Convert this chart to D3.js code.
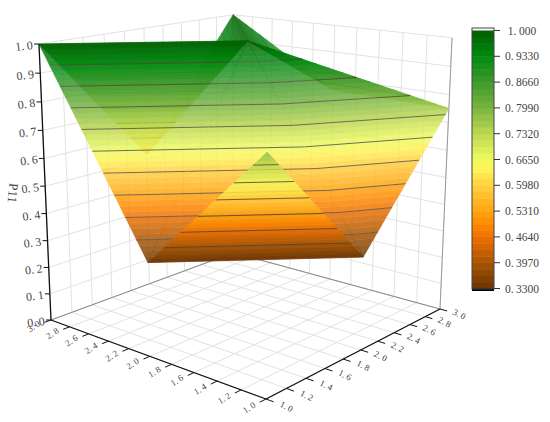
<!DOCTYPE html>
<html>
<head>
<meta charset="utf-8">
<script src="https://cdnjs.cloudflare.com/ajax/libs/d3/7.8.5/d3.min.js"></script>
<style>
html, body { margin: 0; padding: 0; background: #fff; }
svg { display: block; }
text { font-family: "Liberation Serif", serif; fill: #444; }
</style>
</head>
<body>
<div id="container"></div>
<script>
// surface samples
const xValues = [1, 2, 3];
const yValues = [1, 2, 3];
// p11[i][j] is the value at xValues[i], yValues[j]
const p11 = [
    [0.78, 0.33, 0.75],
    [0.33, 1.00, 0.755],
    [1.00, 0.52, 1.00]
];

const xTicks = [1.0, 1.2, 1.4, 1.6, 1.8, 2.0, 2.2, 2.4, 2.6, 2.8, 3.0];
const yTicks = [1.0, 1.2, 1.4, 1.6, 1.8, 2.0, 2.2, 2.4, 2.6, 2.8, 3.0];
const zTicks = [0.0, 0.1, 0.2, 0.3, 0.4, 0.5, 0.6, 0.7, 0.8, 0.9, 1.0];
const barTicks = [0.33, 0.397, 0.464, 0.531, 0.598, 0.665, 0.732, 0.799, 0.866, 0.933, 1.0];

const colorStops = [0.33, 0.397, 0.464, 0.50, 0.531, 0.598, 0.635, 0.665, 0.732, 0.799, 0.866, 0.933, 1.0];
const colorValues = ['#6a3404', '#a85400', '#f07000', '#ff8c00', '#ffa510', '#ffd040', '#fff055', '#f0fb60', '#bcd850', '#78b440', '#3f9a2c', '#008a10', '#006000'];

const bandCount = 40;

const width = 550, height = 422;

const uScale = d3.scaleLinear().domain([1, 3]).range([0, 1]);
const vScale = d3.scaleLinear().domain([1, 3]).range([0, 1]);
const wScale = d3.scaleLinear().domain([0, 1]).range([0, 1]);
const color = d3.scaleLinear().domain(colorStops).range(colorValues);
const barY = d3.scaleLinear().domain([0.33, 1]).range([288.5, 30.5]);

// camera: images of the box corners plus a foreshortening weight per axis
const O = [266, 399], A = [51, 320], B = [440, 309], D = [249.2, 71.94];
const wa = 1.174, wb = 1.196, wc = 0.931;

const project = (x, y, z) => {
    const u = uScale(x), v = vScale(y), w = wScale(z);
    const den = 1 + u * (wa - 1) + v * (wb - 1) + w * (wc - 1);
    return [0, 1].map(k => (O[k] + u * (wa * A[k] - O[k]) + v * (wb * B[k] - O[k]) + w * (D[k] - O[k])) / den);
};

const svg = d3.select('#container').append('svg')
    .attr('width', width).attr('height', height);

const line3 = (parent, a, b, stroke, sw) => {
    const p = project(...a), q = project(...b);
    return parent.append('line')
        .attr('x1', p[0]).attr('y1', p[1]).attr('x2', q[0]).attr('y2', q[1])
        .attr('stroke', stroke).attr('stroke-width', sw);
};

// walls and floor
const grid = svg.append('g');
const gridColor = '#e2e2e2';
xTicks.forEach(t => {
    line3(grid, [t, 1, 0], [t, 3, 0], gridColor, 1);
    line3(grid, [t, 3, 0], [t, 3, 1], gridColor, 1);
});
yTicks.forEach(t => {
    line3(grid, [1, t, 0], [3, t, 0], gridColor, 1);
    line3(grid, [3, t, 0], [3, t, 1], gridColor, 1);
});
zTicks.forEach(t => {
    line3(grid, [3, 1, t], [3, 3, t], gridColor, 1);
    line3(grid, [3, 3, t], [1, 3, t], gridColor, 1);
});
line3(grid, [3, 1, 0], [3, 3, 0], '#888', 1);
line3(grid, [1, 3, 0], [3, 3, 0], '#888', 1);
line3(grid, [1, 3, 0], [1, 3, 1], '#999', 1);

// surface
const vertex = (i, j) => [xValues[i], yValues[j], p11[i][j]];
const triangles = [
    [[2, 2], [1, 1], [1, 2]],
    [[1, 1], [0, 2], [1, 2]],
    [[2, 2], [1, 1], [2, 1]],
    [[2, 0], [2, 1], [1, 1]],
    [[1, 1], [0, 2], [0, 1]],
    [[2, 0], [1, 0], [1, 1]],
    [[1, 0], [0, 1], [1, 1]],
    [[1, 0], [0, 0], [0, 1]]
];

const clipZ = (poly, level, keepAbove) => {
    const out = [];
    const inside = p => keepAbove ? p[2] >= level : p[2] <= level;
    poly.forEach((p, i) => {
        const q = poly[(i + 1) % poly.length];
        if (inside(p)) out.push(p);
        if (inside(p) !== inside(q)) {
            const t = (level - p[2]) / (q[2] - p[2]);
            out.push([p[0] + t * (q[0] - p[0]), p[1] + t * (q[1] - p[1]), level]);
        }
    });
    return out;
};

const contourSegment = (tri, level) => {
    const pts = [];
    tri.forEach((p, i) => {
        const q = tri[(i + 1) % 3];
        if ((p[2] - level) * (q[2] - level) < 0) {
            const t = (level - p[2]) / (q[2] - p[2]);
            pts.push([p[0] + t * (q[0] - p[0]), p[1] + t * (q[1] - p[1]), level]);
        }
    });
    return pts.length === 2 ? pts : null;
};

const polyPath = d3.line();
const bandStep = (1 - 0.33) / bandCount;
const surface = svg.append('g');
triangles.forEach(idx => {
    const tri = idx.map(([i, j]) => vertex(i, j));
    const g = surface.append('g').attr('opacity', 0.84);
    d3.range(bandCount).forEach(b => {
        const lo = 0.33 + b * bandStep, hi = lo + bandStep;
        const poly = clipZ(clipZ(tri, lo, true), hi, false);
        if (poly.length < 3) return;
        const c = color((lo + hi) / 2);
        g.append('path')
            .attr('d', polyPath(poly.map(p => project(...p))) + 'Z')
            .attr('fill', c).attr('stroke', c).attr('stroke-width', 0.6);
    });
    barTicks.forEach(level => {
        const seg = contourSegment(tri, level);
        if (seg) line3(g, seg[0], seg[1], '#4a4030', 0.9);
    });
});

// axes
const axes = svg.append('g');
line3(axes, [3, 1, 0], [3, 1, 1], '#111', 1.3);
line3(axes, [1, 1, 0], [3, 1, 0], '#111', 1.3);
line3(axes, [1, 1, 0], [1, 3, 0], '#111', 1.3);

const addText = (parent, label, x, y, size, rotate) => {
    // the source font sets the point on a full digit cell
    const parts = label.split('.');
    const t = parent.append('text')
        .attr('transform', `translate(${x},${y}) rotate(${rotate})`)
        .attr('text-anchor', 'middle')
        .attr('dominant-baseline', 'central')
        .attr('font-size', size);
    t.append('tspan').text(parts[0] + '.');
    t.append('tspan').attr('dx', size * 0.22).text(parts[1]);
    return t;
};

xTicks.forEach(t => {
    line3(axes, [t, 1, 0], [t, 0.94, 0], '#111', 1);
    const p = project(t, 0.84, 0);
    addText(axes, t.toFixed(1), p[0], p[1], 9, -33);
});
yTicks.forEach(t => {
    line3(axes, [1, t, 0], [0.94, t, 0], '#111', 1);
    const p = project(0.84, t, 0);
    addText(axes, t.toFixed(1), p[0], p[1], 9, 27);
});
zTicks.forEach(t => {
    const p = project(3, 1, t);
    axes.append('line')
        .attr('x1', p[0] - 5).attr('y1', p[1]).attr('x2', p[0]).attr('y2', p[1])
        .attr('stroke', '#111').attr('stroke-width', 1);
    addText(axes, t.toFixed(1), p[0] - 15, p[1] + 2, 12, -7);
});

svg.append('text')
    .attr('transform', 'translate(13,193) rotate(96)')
    .attr('text-anchor', 'middle')
    .attr('dominant-baseline', 'central')
    .attr('font-size', 13)
    .text('P11');

// colour bar
const bar = svg.append('g');
const barX = 472, barW = 22;
d3.range(bandCount).forEach(b => {
    const lo = 0.33 + b * bandStep, hi = lo + bandStep;
    bar.append('rect')
        .attr('x', barX).attr('width', barW)
        .attr('y', barY(hi)).attr('height', barY(lo) - barY(hi) + 0.5)
        .attr('fill', color((lo + hi) / 2));
});
bar.append('rect').attr('x', barX).attr('width', barW).attr('y', barY(0.33)).attr('height', 2.5).attr('fill', '#000');
bar.append('rect').attr('x', barX).attr('y', barY(1) - 2.5).attr('width', barW).attr('height', 261).attr('fill', 'none').attr('stroke', '#444').attr('stroke-width', 1);
barTicks.forEach(t => {
    bar.append('line')
        .attr('x1', barX + barW).attr('x2', barX + barW + 6)
        .attr('y1', barY(t)).attr('y2', barY(t))
        .attr('stroke', '#333').attr('stroke-width', 1);
    addText(bar, t.toFixed(t === 1 ? 3 : 4), barX + barW + 28, barY(t), 11.5, 0);
});
</script>
</body>
</html>
